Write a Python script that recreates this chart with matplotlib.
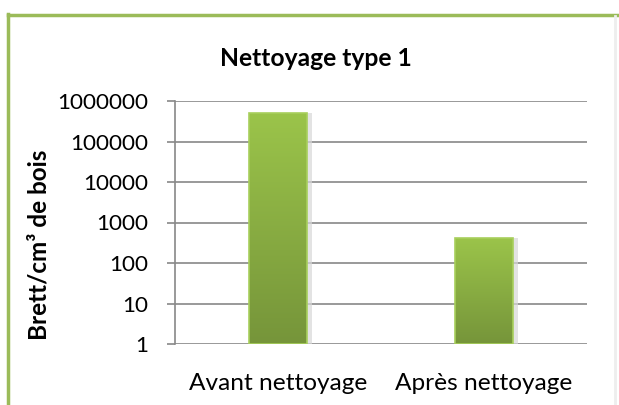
import numpy as np
import matplotlib
matplotlib.use("Agg")
import matplotlib.pyplot as plt
from matplotlib.colors import LinearSegmentedColormap
from matplotlib.patches import Rectangle
import matplotlib.lines as mlines

# data
categories = ["Avant nettoyage", "Après nettoyage"]
values = [520000, 420]
y_ticks = [1, 10, 100, 1000, 10000, 100000, 1000000]
y_ticklabels = ["1", "10", "100", "1000", "10000", "100000", "1000000"]

plt.rcParams['font.family'] = ['Lato', 'DejaVu Sans']

fig = plt.figure(figsize=(6.19, 4.05), dpi=100)
fig.patch.set_facecolor("white")

ax = fig.add_axes([175/619, 61/405, 412/619, 243/405])
ax.set_yscale("log")
ax.set_ylim(1, 1000000)
ax.set_xlim(-0.5, 1.5)

x = np.arange(len(categories))
bar_w = 0.28

# shadow behind bars
ax.bar(x + 0.025, values, width=bar_w, color="#d8d8d8", alpha=0.7, zorder=2, linewidth=0)
bars = ax.bar(x, values, width=bar_w, color="#8aad45", linewidth=0, zorder=3)

# vertical gradient on each bar
grad = LinearSegmentedColormap.from_list("g", ["#76953a", "#9bc44a"])
fig.canvas.draw()
inv = ax.transAxes.inverted()
for b in bars:
    bb = b.get_window_extent()
    (x0, y0), (x1, y1) = inv.transform([[bb.x0, bb.y0], [bb.x1, bb.y1]])
    y0 = max(y0, 0)
    im = ax.imshow(np.linspace(0, 1, 100).reshape(-1, 1), cmap=grad, origin="lower",
                   extent=[x0, x1, y0, y1], transform=ax.transAxes, aspect="auto",
                   zorder=3.5)
    clip = Rectangle((x0, y0), x1 - x0, y1 - y0, transform=ax.transAxes)
    im.set_clip_path(clip)
    ax.add_patch(Rectangle((x0, y0), x1 - x0, y1 - y0, transform=ax.transAxes,
                           fill=False, edgecolor="#a8cf5c", linewidth=1.2, zorder=4))
ax.set_xlim(-0.5, 1.5)
ax.set_ylim(1, 1000000)

ax.set_yticks(y_ticks)
ax.set_yticklabels(y_ticklabels)
ax.minorticks_off()
ax.set_xticks(x)
ax.set_xticklabels(categories)
ax.tick_params(axis="y", length=5.8, width=1.2, color="#888888", labelsize=16.2, pad=13.5)
ax.tick_params(axis="x", length=0, labelsize=17.6, pad=21)
ax.grid(axis="y", color="#888888", linewidth=1.2, zorder=1)
ax.set_axisbelow(True)
for s in ["top", "right", "bottom"]:
    ax.spines[s].set_visible(False)
ax.spines["left"].set_color("#888888")
ax.spines["left"].set_linewidth(1.2)

ax.set_ylabel("Brett/cm³ de bois", fontsize=17.5, fontweight="bold")
ax.yaxis.set_label_coords(-125/412, 0.41)
fig.text(316/619, 1 - 58/405, "Nettoyage type 1", fontsize=17.7, fontweight="bold",
         ha="center", va="center")

# chart frame
fig.add_artist(mlines.Line2D([7.5/619, 7.5/619], [0, 1 - 14/405], color="#9bbb59",
                             linewidth=2.5, transform=fig.transFigure))
fig.add_artist(mlines.Line2D([7.5/619, 1], [1 - 14.5/405, 1 - 14.5/405], color="#9bbb59",
                             linewidth=2.5, transform=fig.transFigure))
fig.add_artist(mlines.Line2D([615/619, 615/619], [0, 1 - 16/405], color="#eeeeee",
                             linewidth=2, transform=fig.transFigure))

fig.savefig("out.png", dpi=100)
